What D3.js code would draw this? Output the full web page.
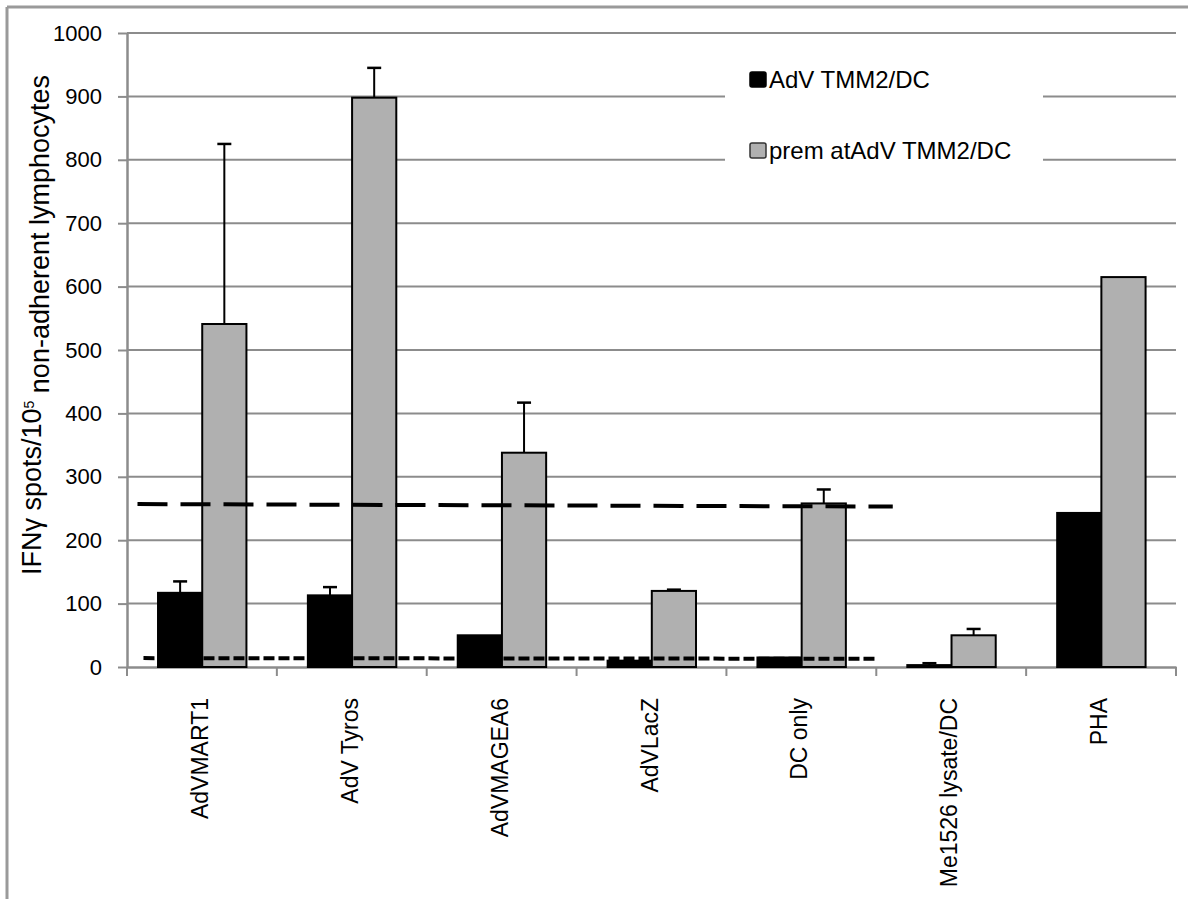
<!DOCTYPE html>
<html>
<head>
<meta charset="utf-8">
<script src="https://cdn.jsdelivr.net/npm/d3@7"></script>
<style>
  body { margin: 0; background: #fff; }
  text { font-family: "Liberation Sans", Arial, sans-serif; fill: #000; }
</style>
</head>
<body>
<div id="chart"></div>
<script>
const width = 1188;
const height = 899;
const margin = { top: 33, right: 12, bottom: 232, left: 127 };

// data
const categories = ["AdVMART1", "AdV Tyros", "AdVMAGEA6", "AdVLacZ", "DC only", "Me1526 lysate/DC", "PHA"];
const seriesNames = ["AdV TMM2/DC", "prem atAdV TMM2/DC"];
const tmm2Values = [117, 113, 50, 10, 15, 3, 243];
const tmm2Errors = [18, 13, 0, 0, 0, 3, 0];
const premValues = [541, 898, 338, 120, 258, 50, 615];
const premErrors = [284, 47, 79, 2, 22, 10, 0];
const yTicks = [0, 100, 200, 300, 400, 500, 600, 700, 800, 900, 1000];
// threshold lines: start/end position (in category units) and start/end value
const longDash = { from: 0.07, to: 5.11, v0: 257, v1: 253 };
const shortDash = { from: 0.11, to: 4.99, v0: 14, v1: 13 };

const svg = d3.select("#chart")
    .append("svg")
    .attr("width", width)
    .attr("height", height);

// outer frame
svg.append("line").attr("x1", 7).attr("x2", width).attr("y1", 7).attr("y2", 7)
    .attr("stroke", "#9a9a9a").attr("stroke-width", 3);
svg.append("line").attr("x1", 7).attr("x2", 7).attr("y1", 7).attr("y2", height)
    .attr("stroke", "#9a9a9a").attr("stroke-width", 3);

const x0 = d3.scaleBand()
    .domain(categories)
    .range([margin.left, width - margin.right])
    .padding(0);

const xPos = d3.scaleLinear()
    .domain([0, categories.length])
    .range([margin.left, width - margin.right]);

const y = d3.scaleLinear()
    .domain([0, 1000])
    .range([height - margin.bottom, margin.top]);

const bw = x0.bandwidth() * 0.295;
const offset = x0.bandwidth() * 0.207;

// grid lines
svg.selectAll(".yGrid")
    .data(yTicks.filter(d => d > 0))
    .enter()
    .append("line")
    .attr("class", "yGrid")
    .attr("x1", margin.left)
    .attr("x2", width - margin.right)
    .attr("y1", d => y(d))
    .attr("y2", d => y(d))
    .attr("stroke", "#8c8c8c")
    .attr("stroke-width", 2);

// y axis
const yAxis = svg.append("g")
    .attr("transform", `translate(${margin.left},0)`)
    .call(d3.axisLeft(y).tickValues(yTicks).tickFormat(d3.format("d"))
        .tickSize(9).tickSizeOuter(0).tickPadding(16));
yAxis.select(".domain").attr("stroke", "#8c8c8c").attr("stroke-width", 2.5);
yAxis.selectAll(".tick line").attr("stroke", "#8c8c8c").attr("stroke-width", 2);
yAxis.selectAll(".tick text")
    .style("font-size", "22px")
    .style("font-family", "'Liberation Sans', Arial, sans-serif")
    .attr("fill", "#000");

// x axis
const xAxis = svg.append("g")
    .attr("transform", `translate(0,${y(0)})`)
    .call(d3.axisBottom(x0).tickSize(0).tickFormat(""));
xAxis.select(".domain").attr("stroke", "#8c8c8c").attr("stroke-width", 2.5);

svg.selectAll(".xTick")
    .data(d3.range(categories.length + 1))
    .enter()
    .append("line")
    .attr("x1", d => xPos(d))
    .attr("x2", d => xPos(d))
    .attr("y1", y(0))
    .attr("y2", y(0) + 9)
    .attr("stroke", "#8c8c8c")
    .attr("stroke-width", 2);

// category labels
svg.selectAll(".catLabel")
    .data(categories)
    .enter()
    .append("text")
    .attr("transform", d => `translate(${x0(d) + x0.bandwidth() / 2 - 2},${y(0) + 31}) rotate(-90)`)
    .attr("dy", "0.35em")
    .style("text-anchor", "end")
    .style("font-size", "23px")
    .text(d => d);

// bars
const series = [
    { name: seriesNames[0], values: tmm2Values, errors: tmm2Errors, fill: "#000", k: 0 },
    { name: seriesNames[1], values: premValues, errors: premErrors, fill: "#b0b0b0", k: 1 }
];

series.forEach(s => {
    const g = svg.append("g");
    g.selectAll("rect")
        .data(categories)
        .enter()
        .append("rect")
        .attr("x", d => x0(d) + offset + s.k * bw)
        .attr("y", (d, i) => y(s.values[i]))
        .attr("width", bw)
        .attr("height", (d, i) => y(0) - y(s.values[i]))
        .attr("fill", s.fill)
        .attr("stroke", "#000")
        .attr("stroke-width", 2);

    categories.forEach((c, i) => {
        if (!s.errors[i]) return;
        const cx = x0(c) + offset + s.k * bw + bw / 2;
        const top = y(s.values[i] + s.errors[i]);
        g.append("line")
            .attr("x1", cx).attr("x2", cx)
            .attr("y1", y(s.values[i])).attr("y2", top)
            .attr("stroke", "#000").attr("stroke-width", 2);
        g.append("line")
            .attr("x1", cx - 7).attr("x2", cx + 7)
            .attr("y1", top).attr("y2", top)
            .attr("stroke", "#000").attr("stroke-width", 2.5);
    });
});

// dashed threshold lines
svg.append("line")
    .attr("x1", xPos(longDash.from)).attr("x2", xPos(longDash.to))
    .attr("y1", y(longDash.v0)).attr("y2", y(longDash.v1))
    .attr("stroke", "#000")
    .attr("stroke-width", 4)
    .attr("stroke-dasharray", "30,13");

svg.append("line")
    .attr("x1", xPos(shortDash.from)).attr("x2", xPos(shortDash.to))
    .attr("y1", y(shortDash.v0)).attr("y2", y(shortDash.v1))
    .attr("stroke", "#000")
    .attr("stroke-width", 4)
    .attr("stroke-dasharray", "11,4");

// y axis title
const yTitle = svg.append("text")
    .attr("transform", `translate(32,${(margin.top + y(0)) / 2 - 25}) rotate(-90)`)
    .attr("dy", "0.35em")
    .style("text-anchor", "middle")
    .style("font-size", "27px");
yTitle.append("tspan").text("IFNγ spots/10");
yTitle.append("tspan").attr("dy", "-0.55em").style("font-size", "14px").text("5");
yTitle.append("tspan").attr("dy", "0.55em").text(" non-adherent lymphocytes");

// legend
const legend = svg.append("g");
legend.append("rect")
    .attr("x", 725).attr("y", 45)
    .attr("width", 318).attr("height", 150)
    .attr("fill", "#fff");

series.forEach((s, i) => {
    const ly = 79 + i * 71;
    legend.append("rect")
        .attr("x", 750).attr("y", ly - 7)
        .attr("width", 16).attr("height", 15)
        .attr("rx", 2)
        .attr("fill", s.fill)
        .attr("stroke", i === 0 ? "#000" : "#333")
        .attr("stroke-width", 1.5);
    legend.append("text")
        .attr("x", 769)
        .attr("y", ly + 9)
        .style("font-size", "24px")
        .text(s.name);
});
</script>
</body>
</html>
